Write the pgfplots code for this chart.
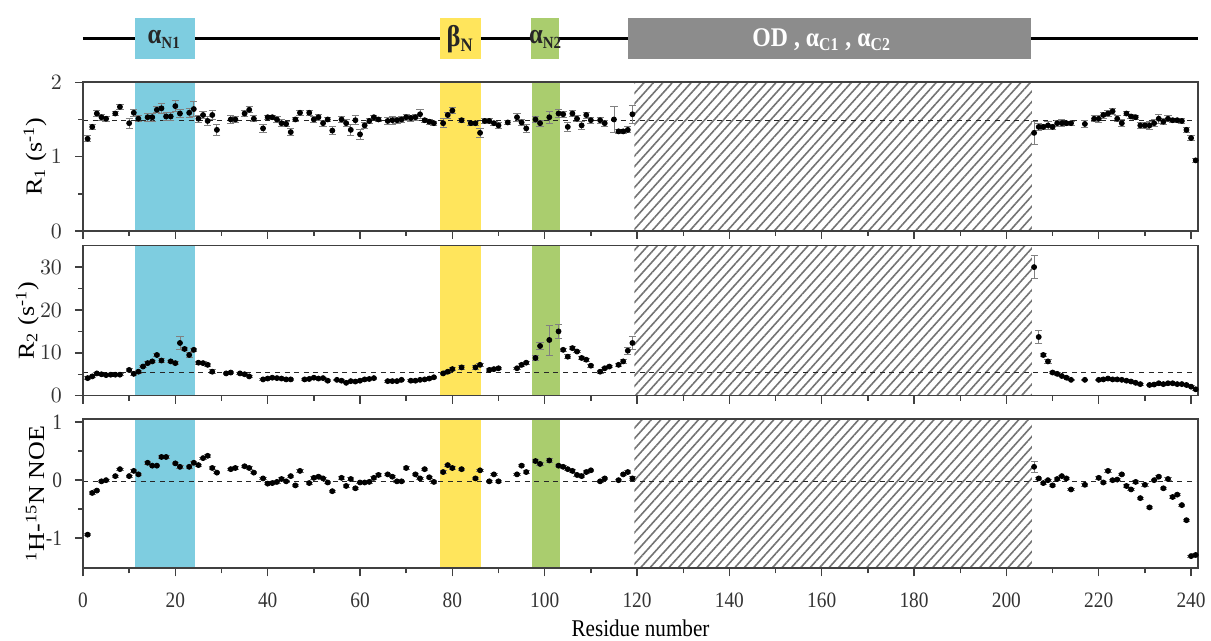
\documentclass[border=0pt]{standalone}
\usepackage{pgfplots}
\pgfplotsset{compat=1.18}
\usepackage{pgfplotstable}
\usepackage{graphicx}
\usepackage{fontspec}
\setmainfont{Liberation Serif}[FakeStretch=0.88]
\newfontfamily\ylabfont{Liberation Serif}
\usetikzlibrary{patterns.meta}
\definecolor{bandblue}{HTML}{7ECDE0}
\definecolor{bandyellow}{HTML}{FFE55C}
\definecolor{bandgreen}{HTML}{AACD6E}
\definecolor{odgray}{HTML}{8C8C8C}

\pgfplotstableread{
x y e
1 1.24 0.04
2 1.40 0.03
3 1.58 0.04
4 1.53 0.04
5 1.51 0.03
7 1.58 0.03
8 1.67 0.03
10 1.45 0.07
11 1.59 0.05
12 1.51 0.04
14 1.53 0.05
15 1.53 0.05
16 1.63 0.04
17 1.65 0.07
18 1.54 0.05
19 1.54 0.05
20 1.68 0.07
21 1.58 0.05
23 1.59 0.06
24 1.64 0.10
25 1.51 0.05
26 1.56 0.05
27 1.48 0.06
28 1.56 0.06
29 1.36 0.08
32 1.50 0.05
33 1.50 0.04
35 1.58 0.04
36 1.63 0.04
37 1.51 0.04
39 1.38 0.05
40 1.53 0.03
41 1.53 0.03
42 1.50 0.04
43 1.45 0.05
44 1.44 0.04
45 1.33 0.05
46 1.50 0.03
47 1.59 0.03
49 1.59 0.03
50 1.50 0.04
51 1.53 0.04
52 1.45 0.04
53 1.50 0.03
54 1.35 0.05
56 1.50 0.04
57 1.45 0.05
58 1.36 0.07
59 1.49 0.06
60 1.30 0.07
61 1.42 0.04
62 1.48 0.03
63 1.53 0.03
64 1.50 0.03
66 1.48 0.05
67 1.49 0.05
68 1.49 0.04
69 1.50 0.04
70 1.53 0.04
71 1.52 0.04
72 1.53 0.04
73 1.57 0.06
74 1.49 0.03
75 1.47 0.03
76 1.45 0.03
78 1.45 0.06
79 1.56 0.04
80 1.62 0.04
82 1.49 0.03
84 1.45 0.03
85 1.45 0.03
86 1.32 0.06
87 1.48 0.03
88 1.48 0.03
89 1.45 0.03
90 1.42 0.04
92 1.46 0.03
94 1.53 0.05
95 1.46 0.04
96 1.38 0.06
98 1.50 0.04
99 1.45 0.04
101 1.53 0.08
103 1.58 0.05
104 1.57 0.04
105 1.40 0.06
106 1.58 0.04
107 1.51 0.04
108 1.42 0.05
109 1.56 0.04
110 1.49 0.04
112 1.49 0.04
113 1.45 0.04
115 1.50 0.17
116 1.34 0.03
117 1.34 0.03
118 1.36 0.04
119 1.57 0.12
206 1.32 0.15
207 1.40 0.05
208 1.40 0.04
209 1.42 0.05
210 1.40 0.04
211 1.45 0.04
212 1.45 0.05
213 1.45 0.03
214 1.45 0.03
217 1.44 0.05
219 1.51 0.04
220 1.51 0.05
221 1.56 0.04
222 1.58 0.04
223 1.61 0.04
224 1.51 0.04
225 1.45 0.05
226 1.58 0.03
227 1.54 0.03
228 1.53 0.03
229 1.42 0.04
230 1.42 0.04
231 1.42 0.05
232 1.45 0.05
233 1.51 0.06
234 1.47 0.04
235 1.51 0.04
236 1.49 0.03
237 1.49 0.03
238 1.48 0.03
239 1.36 0.03
240 1.25 0.03
241 0.95 0.03
}\Rone

\pgfplotstableread{
x y e
1 4.1 0.3
2 4.5 0.3
3 5.2 0.3
4 5.0 0.3
5 4.8 0.3
6 4.9 0.2
7 4.9 0.2
8 4.9 0.2
10 6.0 0.4
11 5.1 0.3
12 5.6 0.3
13 6.8 0.3
14 7.6 0.3
15 8.0 0.3
16 9.5 0.4
17 8.2 0.4
19 8.0 0.3
20 7.6 0.4
21 12.3 1.5
22 10.9 0.4
23 9.5 0.5
24 10.7 0.4
25 7.7 0.3
26 7.6 0.3
27 7.2 0.3
28 5.6 0.5
31 5.2 0.2
32 5.4 0.2
34 5.2 0.2
35 5.0 0.2
36 4.5 0.3
39 3.8 0.2
40 4.0 0.2
41 4.2 0.2
42 4.1 0.2
43 4.0 0.2
44 3.8 0.2
45 3.8 0.2
48 3.8 0.2
49 3.9 0.2
50 4.2 0.2
51 4.0 0.2
52 4.1 0.2
53 3.5 0.2
55 3.7 0.2
56 3.5 0.2
57 3.0 0.2
58 3.4 0.2
59 3.3 0.2
60 3.5 0.2
61 3.8 0.2
62 3.9 0.2
63 4.1 0.2
66 3.4 0.2
67 3.4 0.2
68 3.4 0.2
69 3.7 0.2
71 3.5 0.2
72 3.5 0.2
73 3.7 0.2
74 3.8 0.2
75 4.0 0.2
76 4.3 0.2
78 5.2 0.3
79 5.6 0.3
80 6.2 0.3
82 6.6 0.4
85 6.6 0.4
86 7.2 0.3
88 6.0 0.3
89 6.2 0.3
90 6.4 0.3
94 6.4 0.3
95 7.2 0.3
96 7.7 0.3
98 8.8 0.5
99 11.6 0.8
101 13.0 3.5
103 15.0 1.6
104 10.7 0.4
105 9.1 0.5
106 11.1 0.4
107 10.3 0.3
108 8.8 0.3
109 8.4 0.3
110 7.0 0.3
112 5.6 0.3
113 6.4 0.3
114 6.8 0.3
116 7.2 0.3
117 8.0 0.4
118 10.5 0.8
119 12.3 1.6
206 30.0 2.7
207 13.7 1.6
208 9.5 0.4
209 8.0 0.4
210 5.4 0.3
211 5.1 0.3
212 4.6 0.2
213 4.2 0.2
214 3.7 0.2
217 3.7 0.2
220 3.7 0.2
221 3.8 0.2
222 4.0 0.2
223 3.8 0.2
224 3.8 0.2
225 3.7 0.2
226 3.5 0.2
227 3.3 0.2
228 3.0 0.2
229 2.7 0.2
231 2.5 0.2
232 2.6 0.2
233 2.9 0.2
234 2.7 0.2
235 2.9 0.2
236 2.9 0.2
237 2.7 0.2
238 2.7 0.2
239 2.5 0.2
240 2.1 0.2
241 1.5 0.2
}\Rtwo

\pgfplotstableread{
x y e
1 -0.94 0.02
2 -0.22 0.02
3 -0.18 0.02
4 -0.02 0.02
5 0.00 0.02
7 0.07 0.02
8 0.19 0.02
10 0.07 0.02
11 0.16 0.02
12 0.10 0.02
14 0.30 0.02
15 0.25 0.02
16 0.25 0.02
17 0.40 0.02
18 0.40 0.02
20 0.29 0.02
21 0.23 0.02
23 0.23 0.02
24 0.30 0.02
25 0.26 0.02
26 0.38 0.02
27 0.42 0.02
28 0.21 0.02
29 0.13 0.02
32 0.19 0.02
33 0.21 0.02
35 0.24 0.02
36 0.21 0.02
37 0.13 0.02
39 0.03 0.02
40 -0.06 0.02
41 -0.05 0.02
42 -0.03 0.02
43 0.02 0.02
44 -0.02 0.02
45 0.07 0.02
46 -0.09 0.02
47 0.16 0.02
49 -0.05 0.02
50 0.04 0.02
51 0.06 0.02
52 0.03 0.02
53 -0.04 0.02
54 -0.19 0.02
56 0.04 0.02
57 -0.10 0.02
58 0.02 0.02
59 -0.14 0.02
60 -0.04 0.02
61 -0.04 0.02
62 -0.03 0.02
63 0.04 0.02
64 0.09 0.02
66 0.10 0.02
67 0.06 0.02
68 -0.02 0.02
69 -0.02 0.02
70 0.21 0.02
72 0.10 0.02
73 0.03 0.02
74 0.19 0.02
75 0.05 0.02
76 -0.03 0.02
78 0.14 0.02
79 0.26 0.02
80 0.21 0.02
82 0.19 0.02
85 0.03 0.02
86 0.17 0.02
88 -0.02 0.02
89 0.10 0.02
90 -0.02 0.02
94 0.10 0.02
95 0.25 0.02
96 0.14 0.02
98 0.33 0.03
99 0.28 0.02
101 0.34 0.03
103 0.25 0.02
104 0.23 0.02
105 0.19 0.02
106 0.16 0.02
107 0.09 0.02
108 0.07 0.02
109 0.14 0.02
110 0.17 0.02
112 -0.02 0.02
113 0.03 0.02
116 0.00 0.02
117 0.10 0.02
118 0.14 0.02
119 0.03 0.03
206 0.23 0.10
207 0.03 0.02
208 -0.05 0.02
209 0.00 0.02
210 -0.09 0.02
211 0.02 0.02
212 0.07 0.02
213 0.03 0.02
214 -0.16 0.02
217 -0.08 0.02
220 0.04 0.02
221 -0.04 0.02
222 0.16 0.02
223 0.00 0.02
224 0.01 0.02
225 0.10 0.02
226 -0.10 0.02
227 -0.16 0.02
228 -0.03 0.02
229 -0.31 0.02
230 -0.08 0.02
231 -0.47 0.02
232 0.00 0.02
233 0.06 0.02
234 -0.14 0.02
235 0.02 0.02
236 -0.29 0.02
237 -0.25 0.02
238 -0.43 0.02
239 -0.69 0.02
240 -1.31 0.02
241 -1.29 0.02
}\Noe

\newcommand{\ylab}[1]{\scalebox{1}[0.88]{\ylabfont\fontsize{13}{15}\selectfont #1}}

\pgfplotsset{
  panel/.style={
    scale only axis, width=557.5pt,
    xmin=0, xmax=241.5,
    axis on top, clip=false,
    axis line style={black!75, line width=0.8pt},
    tick align=outside, tick pos=left,
    major tick length=4pt, minor tick length=2.5pt,
    every tick/.style={black!75, line width=0.7pt},
    xtick={0,20,...,240}, minor xtick={10,30,...,230},
    tick label style={font=\fontsize{11}{13}\selectfont, text=black!80},
    xticklabel style={yshift=-5pt},
    yticklabel style={xshift=-3pt},
    label style={text=black!80},
  },
  datastyle/.style={only marks, mark=*, mark size=1.25pt, black,
    mark options={black, fill=black},
    error bars/.cd, y dir=both, y explicit,
    error bar style={black!50, line width=0.4pt},
    error mark options={black!50, rotate=90, mark size=1.8pt, line width=0.4pt}},
  hatchstyle/.style={draw=none, pattern={Lines[angle=48,distance=3.5pt,line width=0.8pt]}, pattern color=black!55},
  refline/.style={black!85, dash pattern=on 2.5pt off 2.3pt, line width=0.5pt},
}

\begin{document}
\begin{tikzpicture}
\useasboundingbox (0,0) rectangle (605.5pt,320.5pt);

% domain diagram
\begin{axis}[at={(41.5pt,291.15pt)}, anchor=south west, scale only axis,
  width=557.5pt, height=20.5pt, xmin=0, xmax=241.5, ymin=0, ymax=1,
  hide axis, clip=false]
\addplot[black, line width=1.4pt] coordinates {(0,0.5) (241.5,0.5)};
\addplot[draw=none, fill=bandblue] coordinates {(11.3,0) (24.3,0) (24.3,1) (11.3,1)};
\addplot[draw=none, fill=bandyellow] coordinates {(77.3,0) (86.2,0) (86.2,1) (77.3,1)};
\addplot[draw=none, fill=bandgreen] coordinates {(97.0,0) (103.0,0) (103.0,1) (97.0,1)};
\addplot[draw=none, fill=odgray] coordinates {(118.0,0) (205.3,0) (205.3,1) (118.0,1)};
\node[font=\bfseries\fontsize{14}{16}\selectfont, text=black!85] at (axis cs:17.6,0.47) {α\textsubscript{\fontsize{8.5}{9}\selectfont N1}};
\node[font=\bfseries\fontsize{15}{17}\selectfont, text=black!85] at (axis cs:81.7,0.47) {β\textsubscript{\fontsize{9.5}{10}\selectfont N}};
\node[font=\bfseries\fontsize{14}{16}\selectfont, text=black!85] at (axis cs:100.2,0.47) {α\textsubscript{\fontsize{8.5}{9}\selectfont N2}};
\node[font=\bfseries\fontsize{13.5}{16}\selectfont, text=white] at (axis cs:160,0.47) {OD , α\textsubscript{\fontsize{9}{10}\selectfont C1} , α\textsubscript{\fontsize{9}{10}\selectfont C2}};
\end{axis}

% R1
\begin{axis}[panel, at={(41.5pt,205pt)}, anchor=south west, height=74.35pt,
  ymin=0, ymax=2, ytick={0,1,2}, minor ytick={0.5,1.5}, xticklabels={},
  ylabel={\ylab{R\textsubscript{1} (s\textsuperscript{-1})}},
  every axis y label/.style={at={(axis description cs:-0.043,0.5)}, rotate=90, anchor=center}]
\addplot[draw=none, fill=bandblue] coordinates {(11.3,0) (24.3,0) (24.3,2) (11.3,2)};
\addplot[draw=none, fill=bandyellow] coordinates {(77.3,0) (86.2,0) (86.2,2) (77.3,2)};
\addplot[draw=none, fill=bandgreen] coordinates {(97.3,0) (103.3,0) (103.3,2) (97.3,2)};
\addplot[hatchstyle] coordinates {(119.4,0) (205.5,0) (205.5,2) (119.4,2)};
\addplot[refline] coordinates {(0,1.48) (241.5,1.48)};
\addplot[datastyle] table[x=x, y=y, y error=e] {\Rone};
\end{axis}

% R2
\begin{axis}[panel, at={(41.5pt,122.65pt)}, anchor=south west, height=75pt,
  ymin=0, ymax=35, ytick={0,10,20,30}, minor ytick={5,15,25}, xticklabels={},
  ylabel={\ylab{R\textsubscript{2} (s\textsuperscript{-1})}},
  every axis y label/.style={at={(axis description cs:-0.050,0.5)}, rotate=90, anchor=center}]
\addplot[draw=none, fill=bandblue] coordinates {(11.3,0) (24.3,0) (24.3,35) (11.3,35)};
\addplot[draw=none, fill=bandyellow] coordinates {(77.3,0) (86.2,0) (86.2,35) (77.3,35)};
\addplot[draw=none, fill=bandgreen] coordinates {(97.3,0) (103.3,0) (103.3,35) (97.3,35)};
\addplot[hatchstyle] coordinates {(119.4,0) (205.5,0) (205.5,35) (119.4,35)};
\addplot[refline] coordinates {(0,5.4) (241.5,5.4)};
\addplot[datastyle] table[x=x, y=y, y error=e] {\Rtwo};
\end{axis}

% NOE
\begin{axis}[panel, at={(41.5pt,36.35pt)}, anchor=south west, height=74.5pt,
  ymin=-1.52, ymax=1.05, ytick={-1,0,1}, yticklabels={-1,0,1}, minor ytick={-0.5,0.5},
  xticklabels={0,20,40,60,80,100,120,140,160,180,200,220,240},
  ylabel={\ylab{\textsuperscript{1}H-\textsuperscript{15}N NOE}},
  every axis y label/.style={at={(axis description cs:-0.043,0.5)}, rotate=90, anchor=center},
  xlabel={\fontsize{12}{14}\selectfont Residue number},
  every axis x label/.style={at={(axis description cs:0.5,0)}, anchor=base, yshift=-34.35pt}]
\addplot[draw=none, fill=bandblue] coordinates {(11.3,-1.52) (24.3,-1.52) (24.3,1.05) (11.3,1.05)};
\addplot[draw=none, fill=bandyellow] coordinates {(77.3,-1.52) (86.2,-1.52) (86.2,1.05) (77.3,1.05)};
\addplot[draw=none, fill=bandgreen] coordinates {(97.3,-1.52) (103.3,-1.52) (103.3,1.05) (97.3,1.05)};
\addplot[hatchstyle] coordinates {(119.4,-1.52) (205.5,-1.52) (205.5,1.05) (119.4,1.05)};
\addplot[refline] coordinates {(0,-0.03) (241.5,-0.03)};
\addplot[datastyle] table[x=x, y=y, y error=e] {\Noe};
\end{axis}
\end{tikzpicture}
\end{document}
